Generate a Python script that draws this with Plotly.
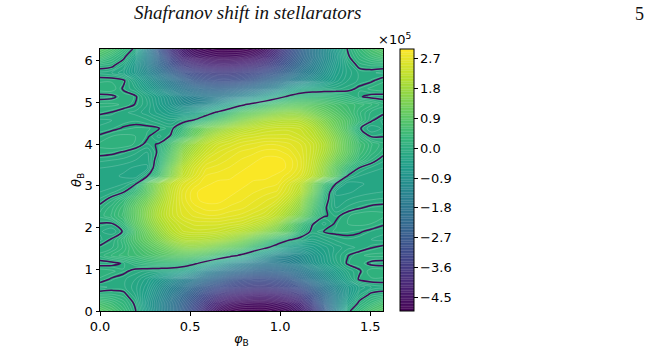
import numpy as np
import plotly.graph_objects as go

# Field samples in units of 1e5 on a regular Boozer-angle grid.
# Rows run from theta = 2*pi downwards to just above theta = pi; the lower half
# follows from stellarator symmetry f(theta, phi) = f(2*pi - theta, pi/2 - phi).
upper_half = [
    [.9,.7,.35,-.1,-1.5,-2.8,-3.7,-4.3,-4.65,-4.8,-4.9,-4.9,-4.9,-4.8,-4.5,-3.9,-3.2,-2.5,-1.8,-1.2,-.6,.02,.4,.7,.9],
    [.6,.35,.08,-.5,-1.4,-2.4,-3.3,-4.0,-4.35,-4.5,-4.6,-4.6,-4.55,-4.4,-4.1,-3.6,-3.0,-2.4,-1.8,-1.2,-.7,-.05,.25,.45,.6],
    [.15,.08,-.2,-.7,-1.4,-2.2,-2.9,-3.5,-3.8,-4.0,-4.1,-4.1,-4.0,-3.85,-3.6,-3.2,-2.7,-2.2,-1.6,-1.1,-.6,-.2,.08,.15,.15],
    [-.15,-.2,-.35,-.7,-1.2,-1.8,-2.4,-2.9,-3.2,-3.4,-3.5,-3.5,-3.4,-3.25,-3.0,-2.7,-2.3,-1.8,-1.4,-.95,-.5,-.25,-.1,-.1,-.15],
    [.1,.1,.04,-.35,-.8,-1.3,-1.8,-2.3,-2.7,-2.9,-3.0,-3.0,-2.9,-2.7,-2.4,-2.1,-1.7,-1.35,-1.0,-.7,-.4,-.2,-.1,-.03,.1],
    [.2,.2,-.03,-.2,-.55,-.95,-1.4,-1.8,-2.1,-2.3,-2.4,-2.35,-2.2,-2.0,-1.7,-1.35,-.8,-.4,-.25,-.2,-.15,-.08,.05,.15,.2],
    [-.08,-.05,.1,.03,-.25,-.55,-.9,-1.3,-1.55,-1.7,-1.75,-1.6,-1.35,-1.05,-.65,-.25,.1,.3,.35,.35,.3,.2,.02,-.06,-.08],
    [.15,.15,.1,-.01,-.2,-.5,-.8,-1.1,-1.25,-1.2,-.9,-.5,-.1,.2,.5,.75,.9,.95,.9,.8,.65,.5,.4,.3,.15],
    [.05,-.01,-.1,-.15,-.25,-.4,-.55,-.65,-.55,-.25,.1,.45,.85,1.1,1.3,1.5,1.6,1.55,1.35,1.1,.85,.6,.3,.1,.05],
    [-.15,-.12,-.08,-.05,-.1,-.2,-.3,-.12,.05,.4,.8,1.15,1.5,1.75,1.95,2.05,2.1,2.05,1.8,1.45,1.1,.75,.35,.03,-.15],
    [-.1,-.05,.02,.05,.05,.01,-.08,.3,.9,1.3,1.6,1.9,2.1,2.25,2.35,2.4,2.4,2.35,2.1,1.7,1.25,.75,.03,-.2,-.1],
    [.03,.12,.15,.12,.03,-.15,.02,.6,1.2,1.75,2.1,2.3,2.45,2.5,2.55,2.55,2.55,2.45,2.25,1.9,1.45,.95,.35,-.02,-.01],
    [.15,.2,.2,.1,-.05,.02,.6,1.3,1.8,2.2,2.45,2.55,2.65,2.7,2.75,2.75,2.7,2.6,2.4,2.05,1.55,1.0,.55,.3,.15],
    [.08,.05,-.02,-.1,-.2,.05,.8,1.6,2.05,2.4,2.6,2.7,2.78,2.82,2.88,2.88,2.8,2.65,2.4,2.0,1.5,1.0,.5,.25,.08],
    [-.1,-.12,-.15,-.2,-.25,.15,1.0,1.8,2.3,2.6,2.7,2.78,2.85,2.9,2.95,2.95,2.9,2.7,2.35,1.85,1.3,.8,.35,.1,-.1],
    [-.2,-.22,-.25,-.3,-.3,.3,1.3,2.1,2.5,2.75,2.8,2.85,2.9,2.95,2.98,2.97,2.9,2.7,2.3,1.7,1.0,.4,-.02,-.15,-.2],
    [-.2,-.25,-.3,-.35,-.02,.6,1.5,2.25,2.6,2.85,2.88,2.9,2.95,2.95,2.95,2.9,2.8,2.6,2.2,1.6,.9,-.03,-.2,-.25,-.2],
]
tick_values = [2.7, 1.8, 0.9, 0.0, -0.9, -1.8, -2.7, -3.6, -4.5]
tick_labels = ["2.7", "1.8", "0.9", "0.0", "−0.9", "−1.8", "−2.7", "−3.6", "−4.5"]

FONT = "DejaVu Sans"
W, H = 650, 362
L, R, T, B = 100, 383, 49, 311

top = np.array(upper_half)
z = np.vstack([top[:, ::-1], top[::-1]])  # theta ascending
phi = np.linspace(0, np.pi / 2, z.shape[1])
theta = np.linspace(0, 2 * np.pi, z.shape[0])

fig = go.Figure()
fig.add_trace(go.Contour(
    x=phi, y=theta, z=z, colorscale="Viridis", zmin=-4.92, zmax=3.0,
    autocontour=False,
    contours=dict(start=-4.92, end=3.0, size=0.08, coloring="fill"),
    line=dict(color="rgba(255,255,255,0.3)", width=0.6, smoothing=1.0),
    colorbar=dict(
        x=400 / W, xanchor="left", xpad=0, y=1 - (T + B) / 2 / H, yanchor="middle",
        ypad=0, thickness=14, thicknessmode="pixels", len=B - T, lenmode="pixels",
        tickvals=tick_values, ticktext=tick_labels, ticks="outside", ticklen=3.5,
        tickwidth=1, tickcolor="black", outlinecolor="black", outlinewidth=1,
        tickfont=dict(family=FONT, size=13, color="black"),
    ),
    hoverinfo="skip",
))
# The zero level of the same field, drawn on top.
fig.add_trace(go.Contour(
    x=phi, y=theta, z=z, showscale=False, autocontour=False,
    contours=dict(start=0, end=0.5, size=1, coloring="none"),
    line=dict(color="#440a5a", width=1.5, smoothing=1.0),
    hoverinfo="skip",
))

axis = dict(
    showgrid=False, zeroline=False, showline=True, linecolor="black", linewidth=1, mirror=True,
    ticks="outside", ticklen=3.5, tickwidth=1, tickcolor="black",
    tickfont=dict(family=FONT, size=13, color="black"),
)
label = dict(xref="paper", yref="paper", xanchor="center", yanchor="middle", showarrow=False)
fig.update_layout(
    width=W, height=H, margin=dict(l=0, r=0, t=0, b=0, autoexpand=False),
    paper_bgcolor="white", plot_bgcolor="white", showlegend=False,
    xaxis=dict(axis, domain=[L / W, R / W], range=[0, np.pi / 2], tickvals=[0, 0.5, 1.0, 1.5],
               ticktext=["0.0", "0.5", "1.0", "1.5"]),
    yaxis=dict(axis, domain=[1 - B / H, 1 - T / H], range=[0, 2 * np.pi], tickvals=list(range(7))),
    annotations=[
        dict(label, text="<i>Shafranov shift in stellarators</i>", x=248 / W, y=1 - 13 / H,
             font=dict(family="Liberation Serif", size=19, color="#111111")),
        dict(label, text="5", x=639 / W, y=1 - 14 / H,
             font=dict(family="Liberation Serif", size=18, color="#111111")),
        dict(label, text="×10<sup>5</sup>", x=395 / W, y=1 - 39 / H,
             font=dict(family=FONT, size=13, color="black")),
        dict(label, text="<i>φ</i><sub>B</sub>", x=241 / W, y=1 - 339 / H,
             font=dict(family=FONT, size=13, color="black")),
        dict(label, text="<i>θ</i><sub>B</sub>", x=77 / W, y=1 - 180 / H, textangle=-90,
             font=dict(family=FONT, size=13, color="black")),
    ],
)
fig.write_html("out.html")
